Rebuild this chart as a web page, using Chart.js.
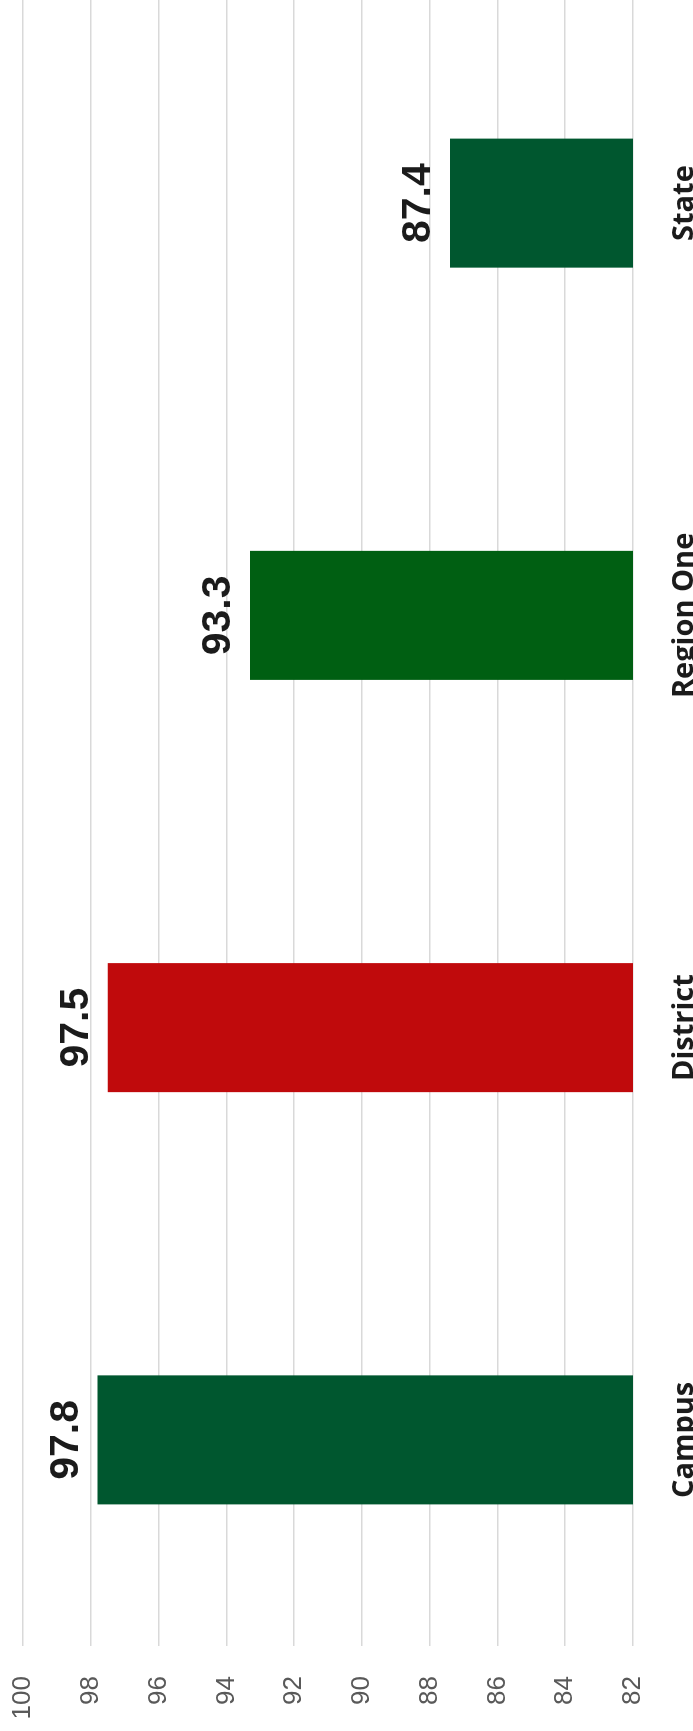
<!DOCTYPE html>
<html>
<head>
<meta charset="utf-8">
<script src="https://cdn.jsdelivr.net/npm/chart.js@4.4.0/dist/chart.umd.min.js"></script>
<style>
  html, body { margin: 0; padding: 0; background: #fff; overflow: hidden; width: 693px; height: 1731px; }
  /* the chart is drawn upright, then turned a quarter turn to the left */
  #wrap {
    position: absolute; left: 0; top: 0;
    width: 1735px; height: 693px;
    transform-origin: 0 0;
    transform: translate(0, 1732px) rotate(-90deg);
  }
</style>
</head>
<body>
<div id="wrap"><canvas id="grafico" width="1735" height="693"></canvas></div>
<script>
const categorias = ["Campus", "District", "Region One", "State"];
const valores = [97.8, 97.5, 93.3, 87.4];
const colores = ["#00572f", "#c00a0c", "#005f12", "#00572f"];
const pesoEtiqueta = ["bold", "bold", "600", "bold"];

const ejeMin = 82;
const ejeMax = 100;
const paso = 2;

// etiquetas de valor encima de cada barra
const etiquetas = {
  id: "etiquetas",
  afterDatasetsDraw(chart) {
    const ctx = chart.ctx;
    const meta = chart.getDatasetMeta(0);
    ctx.save();
    ctx.fillStyle = "#1b1b1b";
    ctx.textAlign = "center";
    ctx.textBaseline = "alphabetic";
    meta.data.forEach((bar, i) => {
      ctx.font = `${pesoEtiqueta[i]} 41px "Liberation Sans", Arial, sans-serif`;
      ctx.fillText(valores[i].toFixed(1), bar.x, bar.y - 20);
    });
    ctx.restore();
  },
};

new Chart(document.getElementById("grafico"), {
  type: "bar",
  data: {
    labels: categorias,
    datasets: [
      {
        data: valores,
        backgroundColor: colores,
        borderWidth: 0,
        categoryPercentage: 1,
        barPercentage: 0.313,
      },
    ],
  },
  options: {
    responsive: false,
    animation: false,
    layout: { padding: { top: 23, left: 0, right: 0, bottom: 0 } },
    plugins: { legend: { display: false }, tooltip: { enabled: false } },
    scales: {
      x: {
        grid: { display: false },
        border: { display: false },
        afterFit: (s) => { s.height = 60; },
        ticks: {
          color: "#1b1b1b",
          padding: 26,
          maxRotation: 0,
          font: { family: "'Open Sans', sans-serif", size: 29, weight: "bold" },
        },
      },
      y: {
        min: ejeMin,
        max: ejeMax,
        afterFit: (s) => {
          s.width = 86;
          s.paddingTop = 0;
          s.paddingBottom = 0;
        },
        grid: { color: "#d9d9d9", lineWidth: 1.5, drawTicks: false },
        border: { display: false },
        ticks: {
          stepSize: paso,
          padding: 30,
          color: "#595959",
          font: { family: "'Liberation Sans', Arial, sans-serif", size: 26 },
        },
      },
    },
  },
  plugins: [etiquetas],
});
</script>
</body>
</html>
